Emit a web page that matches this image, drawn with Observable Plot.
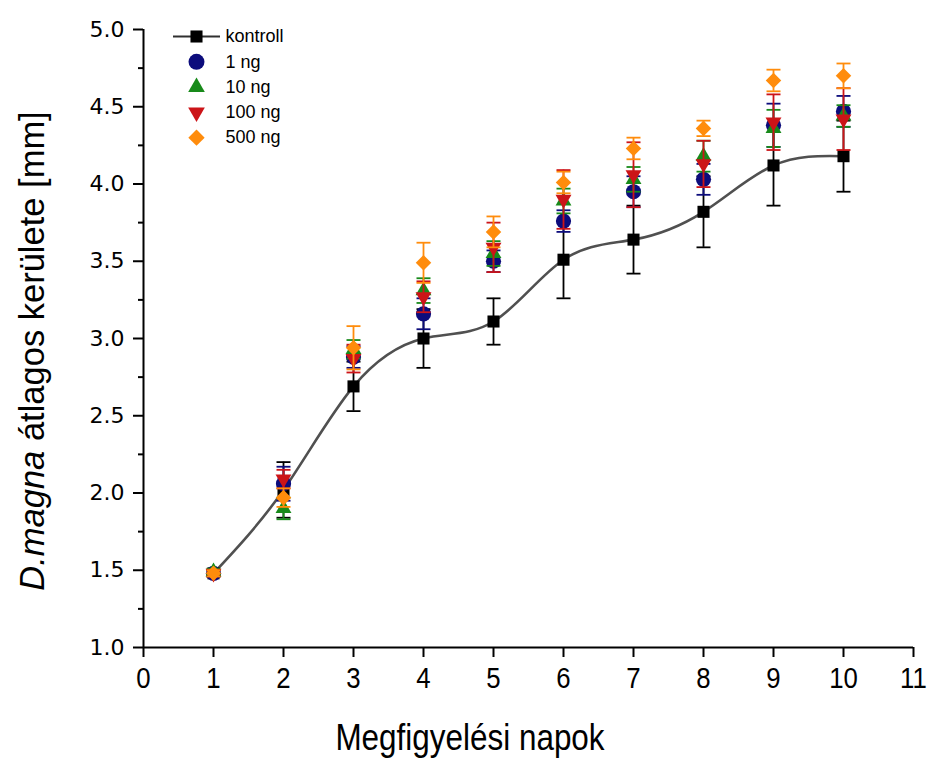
<!DOCTYPE html>
<html><head><meta charset="utf-8">
<script src="https://cdn.jsdelivr.net/npm/d3@7"></script>
<script src="https://cdn.jsdelivr.net/npm/@observablehq/plot@0.6"></script>
<style>
body{margin:0;background:#fff}
#chart{position:relative;width:927px;height:760px}
</style>
</head><body><div id="chart"></div>
<script>
const days = [1,2,3,4,5,6,7,8,9,10];
const seriesNames = ["kontroll","1 ng","10 ng","100 ng","500 ng"];
const kontroll   = [1.48, 2.02, 2.69, 3.00, 3.11, 3.51, 3.64, 3.82, 4.12, 4.18];
const kontrollSd = [0.02, 0.18, 0.16, 0.19, 0.15, 0.25, 0.22, 0.23, 0.26, 0.23];
const ng1        = [1.48, 2.06, 2.88, 3.16, 3.50, 3.76, 3.95, 4.03, 4.38, 4.47];
const ng1Sd      = [0.02, 0.11, 0.07, 0.10, 0.07, 0.07, 0.10, 0.10, 0.14, 0.10];
const ng10       = [1.49, 1.90, 2.93, 3.31, 3.55, 3.89, 4.03, 4.18, 4.36, 4.44];
const ng10Sd     = [0.02, 0.07, 0.06, 0.08, 0.08, 0.08, 0.08, 0.10, 0.12, 0.07];
const ng100      = [1.48, 2.09, 2.87, 3.27, 3.59, 3.90, 4.06, 4.13, 4.40, 4.42];
const ng100Sd    = [0.02, 0.06, 0.09, 0.10, 0.16, 0.19, 0.21, 0.15, 0.18, 0.20];
const ng500      = [1.48, 1.97, 2.94, 3.49, 3.69, 4.01, 4.23, 4.36, 4.67, 4.70];
const ng500Sd    = [0.02, 0.06, 0.14, 0.13, 0.10, 0.07, 0.07, 0.05, 0.07, 0.08];
const xTicks = [0,1,2,3,4,5,6,7,8,9,10,11];
const yTicks = [1.0,1.5,2.0,2.5,3.0,3.5,4.0,4.5,5.0];
const yMinorTicks = [1.25,1.75,2.25,2.75,3.25,3.75,4.25,4.75];
const xTitle = "Megfigyelési napok";
const yTitleItalic = "D.magna";
const yTitleRest = " átlagos kerülete [mm]";

const colors = ["#000000","#0c0c7c","#188a1a","#cc1418","#ff8c0c"];
const barColors = ["#000000","#0c0c7c","#188a1a","#cc1418","#ff8c0c"];
const values = [kontroll, ng1, ng10, ng100, ng500];
const sds = [kontrollSd, ng1Sd, ng10Sd, ng100Sd, ng500Sd];

const capSymbol = {draw(ctx, size){ const h = Math.sqrt(size/Math.PI); ctx.moveTo(-h,0); ctx.lineTo(h,0); }};
const triDown = {draw(ctx, size){
  const y = -Math.sqrt(size/(Math.sqrt(3)*3));
  ctx.moveTo(0,-2*y); ctx.lineTo(-Math.sqrt(3)*y, y); ctx.lineTo(Math.sqrt(3)*y, y); ctx.closePath();
}};
const symbols = ["square","circle","triangle",triDown,"diamond2"];
const radii = [6.8, 7.6, 5.9, 5.9, 7.0];

const font = "'Liberation Sans', Arial, sans-serif";

const rowsOf = i => days.map((d,j) => ({day:d, value:values[i][j], sd:sds[i][j], series:seriesNames[i]}));

const marks = [];
// axes
marks.push(Plot.axisY(yMinorTicks, {tickSize:5, tickFormat:()=>"", strokeWidth:2, label:null}));
marks.push(Plot.axisY(yTicks, {tickSize:10, tickPadding:9, tickFormat:d3.format(".1f"), fontSize:22, fontFamily:"'DejaVu Sans', sans-serif", strokeWidth:2, label:null}));
marks.push(Plot.axisX(xTicks, {tickSize:10, tickPadding:9, fontSize:30, fontFamily:font, strokeWidth:2, label:null}));
marks.push(Plot.ruleX([0], {stroke:"#000", strokeWidth:2}));
marks.push(Plot.ruleY([1], {stroke:"#000", strokeWidth:2}));

// kontroll line
marks.push(Plot.line(rowsOf(0), {x:"day", y:"value", curve:"natural", stroke:"#505050", strokeWidth:2.6}));

seriesNames.forEach((name,i) => {
  const rows = rowsOf(i);
  marks.push(Plot.ruleX(rows, {x:"day", y1:d=>d.value-d.sd, y2:d=>d.value+d.sd, stroke:barColors[i], strokeWidth:1.8}));
  marks.push(Plot.dot(rows, {x:"day", y:d=>d.value+d.sd, symbol:capSymbol, r:7, stroke:barColors[i], strokeWidth:1.8}));
  marks.push(Plot.dot(rows, {x:"day", y:d=>d.value-d.sd, symbol:capSymbol, r:7, stroke:barColors[i], strokeWidth:1.8}));
  marks.push(Plot.dot(rows, {x:"day", y:"value", symbol:symbols[i], r:radii[i], fill:colors[i], stroke:"none"}));
});

// legend
seriesNames.forEach((name,i) => {
  const dy = 7 + i*25.3;
  if (i === 0) {
    marks.push(Plot.dot([name], {frameAnchor:"top-left", dx:53, dy, symbol:capSymbol, r:23.5, stroke:"#303030", strokeWidth:2.2}));
  }
  marks.push(Plot.dot([name], {frameAnchor:"top-left", dx:53, dy, symbol:symbols[i], r:radii[i]*(i===0?1:1.05), fill:colors[i], stroke:"none"}));
  marks.push(Plot.text([name], {frameAnchor:"top-left", dx:82, dy, text:d=>d, textAnchor:"start", lineAnchor:"middle", fontSize:18, fontFamily:font, fill:"#000"}));
});

const chart = Plot.plot({
  width:927, height:760,
  marginLeft:143, marginRight:14, marginTop:29, marginBottom:113,
  x:{domain:[0,11]},
  y:{domain:[1,5]},
  style:{fontFamily:font, color:"#000", background:"#fff"},
  marks
});

const svg = d3.select(chart);
// narrow the x tick labels horizontally (reference uses a tall, condensed face)
svg.selectAll('g[aria-label="x-axis tick label"] text').each(function(){
  const t = this.getAttribute("transform") || "";
  this.setAttribute("transform", t + " scale(0.86,1)");
});
const yt = svg.append("text")
  .attr("transform","translate(44,351) rotate(-90)")
  .attr("text-anchor","middle")
  .attr("font-family",font).attr("font-size",34.5).attr("fill","#000");
yt.append("tspan").attr("font-style","italic").text(yTitleItalic);
yt.append("tspan").text(yTitleRest);
svg.append("text")
  .attr("transform","translate(470,750) scale(0.85,1)")
  .attr("text-anchor","middle")
  .attr("font-family",font).attr("font-size",37).attr("fill","#000")
  .text(xTitle);

document.getElementById("chart").appendChild(chart);
</script>
</body></html>
